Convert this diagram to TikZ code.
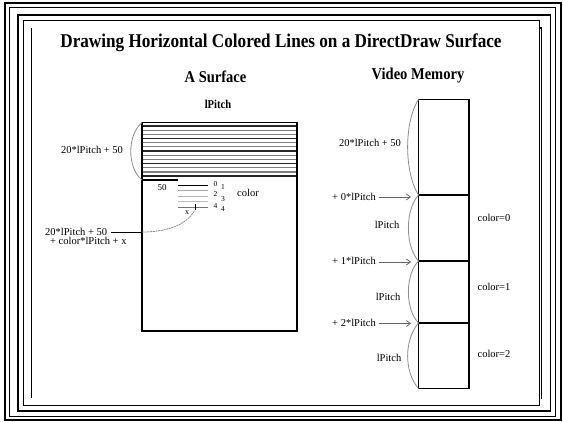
\documentclass[tikz,border=0pt]{standalone}
\usepackage{fontspec}
\setmainfont{Liberation Serif}
\usetikzlibrary{arrows.meta}
\begin{document}
\begin{tikzpicture}[x=1pt,y=-1pt,
  lbl/.style={inner sep=0pt, font=\fontsize{10.5}{12}\selectfont},
  digit/.style={inner sep=0pt, font=\fontsize{7.5}{8}\selectfont},
  head/.style={inner sep=0pt, font=\bfseries\fontsize{16.5}{18}\selectfont},
  brace/.style={draw=black!45, line width=0.8pt},
  ptr/.style={draw=black!60, line width=0.8pt, -{Straight Barb[length=4pt,width=6pt]}},
  boxline/.style={draw=black, line width=1.2pt},
  stripe/.style={line width=1.3pt}]
\useasboundingbox (0,0) rectangle (563,422);
% frames
\draw[line width=2pt] (4.5,3.5) rectangle (560.5,420);
\draw[line width=1pt] (9,8) rectangle (555,416.5);
\draw[line width=1.2pt] (18,15) rectangle (550.5,411);
\draw[line width=1pt] (23,20.5) rectangle (539,405.5);
\draw[line width=1.2pt] (31.5,28) -- (31.5,398.5);
\draw[line width=1.2pt] (539,28) -- (541.5,28) -- (541.5,399);
% title and headings
\node[inner sep=0pt, font=\bfseries\fontsize{19.5}{22}\selectfont] (title) at (281,43)
  {\scalebox{0.88}[1]{Drawing Horizontal Colored Lines on a DirectDraw Surface}};
\node[head] (hsurf) at (215.5,77) {\scalebox{0.88}[1]{A Surface}};
\node[head] (hmem) at (418,76) {\scalebox{0.88}[1]{Video Memory}};
\node[inner sep=0pt, font=\bfseries\fontsize{12}{14}\selectfont] (pitchtop) at (218,104) {\scalebox{0.88}[1]{lPitch}};
% surface box
\coordinate (stl) at (142,122.5);
\coordinate (sbr) at (297,331);
\foreach \i in {0,...,12}{
  \pgfmathsetmacro{\yy}{126+4.17*\i}
  \pgfmathparse{mod(\i,3)==0 ? "black!85" : "black!50"}
  \edef\col{\pgfmathresult}
  \draw[stripe, draw=\col] (142,\yy) -- (297,\yy);
}
\draw[boxline] (stl) rectangle (sbr);
\coordinate (row20) at (142,180);
\coordinate (row20e) at (178,180);
\draw[stripe, draw=black] (row20) -- (row20e);
\node[lbl, font=\fontsize{9}{10}\selectfont] (fifty) at (162,188) {50};
% colour lines
\draw[line width=1.2pt, black] (178,185.5) -- (208,185.5);
\draw[line width=1pt, black!35] (178,191) -- (208,191);
\draw[line width=1pt, black!30] (178,196.5) -- (208,196.5);
\draw[line width=1pt, black!25] (178,202) -- (208,202);
\draw[line width=1.8pt, black!55] (178,207.5) -- (208,207.5);
\node[digit] (d0) at (215.5,184) {0};
\node[digit] (d1) at (223,187.5) {1};
\node[digit] (d2) at (215.5,194.5) {2};
\node[digit] (d3) at (223,199) {3};
\node[digit] (d4) at (215.5,206.5) {4};
\node[digit] (d5) at (223,209) {4};
\node[lbl] (colorlbl) at (248,193) {color};
\node[lbl, font=\fontsize{8}{9}\selectfont] (xlbl) at (187,213) {x};
\draw[line width=0.8pt] (195,204.5) -- (195,210);
% left labels
\node[lbl] (top20) at (92,150) {20*lPitch + 50};
\draw[brace] (stl) .. controls (127,135) and (127,168) .. (row20);
\node[lbl, anchor=west] (offa) at (45,232) {20*lPitch + 50};
\node[lbl, anchor=west] (offb) at (50,241) {+ color*lPitch + x};
\coordinate (sedge) at (142,232);
\coordinate (xpt) at (195,210);
\draw[line width=0.7pt] (offa.east) ++(4,0) -- (sedge);
\draw[brace, dashed, dash pattern=on 2pt off 0.7pt] (sedge) .. controls (165,232) and (186,226) .. (xpt);
% video memory
\coordinate (mtl) at (418.5,99.5);
\coordinate (mbr) at (469,388.5);
\coordinate (mb0) at (418.5,195);
\coordinate (mb1) at (418.5,261);
\coordinate (mb2) at (418.5,323);
\coordinate (mbl) at (418.5,388.5);
\draw[boxline] (mtl) rectangle (mbr);
\draw[boxline] (mb0) -- (469,195);
\draw[boxline] (mb1) -- (469,261);
\draw[boxline] (mb2) -- (469,323);
\draw[brace] (mtl) .. controls (404,122) and (404,172) .. (mb0);
\draw[brace] (mb0) .. controls (405,210) and (405,246) .. (mb1);
\draw[brace] (mb1) .. controls (405,275) and (405,309) .. (mb2);
\draw[brace] (mb2) .. controls (404,340) and (404,372) .. (mbl);
\node[lbl] (m20) at (370,143) {20*lPitch + 50};
\node[lbl] (p0) at (354,196.5) {+ 0*lPitch};
\node[lbl] (p1) at (354,261) {+ 1*lPitch};
\node[lbl] (p2) at (354,323) {+ 2*lPitch};
\coordinate (a0) at (411,197);
\coordinate (a1) at (411,262);
\coordinate (a2) at (411,323.5);
\draw[ptr] (p0.east) ++(3,0.5) -- (a0);
\draw[ptr] (p1.east) ++(3,1) -- (a1);
\draw[ptr] (p2.east) ++(3,0.5) -- (a2);
\node[lbl] (lp0) at (387,225) {lPitch};
\node[lbl] (lp1) at (388,297) {lPitch};
\node[lbl] (lp2) at (389,358) {lPitch};
\node[lbl] (c0) at (494,218) {color=0};
\node[lbl] (c1) at (494,287) {color=1};
\node[lbl] (c2) at (494,354) {color=2};
\end{tikzpicture}
\end{document}
